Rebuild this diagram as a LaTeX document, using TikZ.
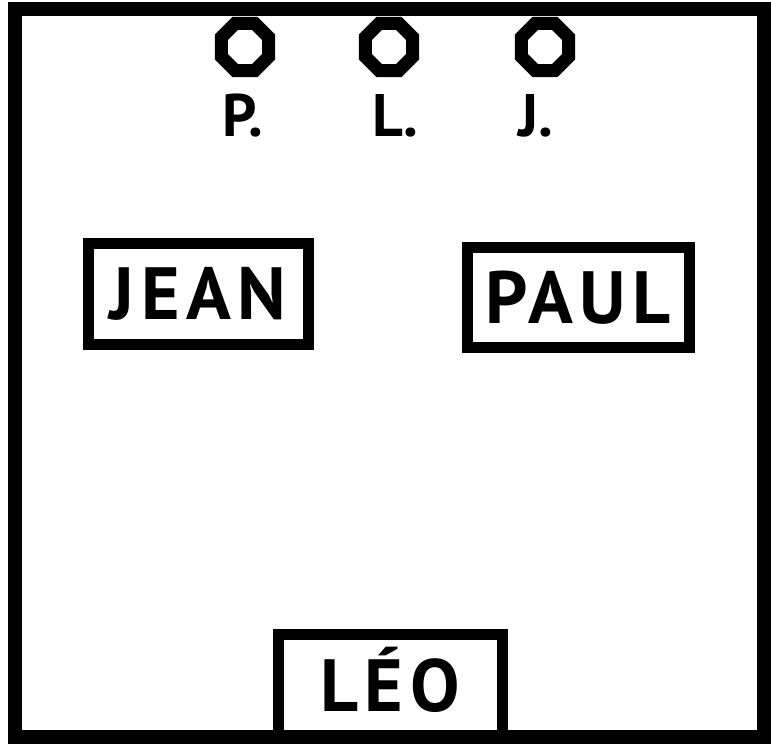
\documentclass[tikz,border=0pt]{standalone}
\usepackage{fontspec}
\setmainfont{PT Sans}
\newfontfamily\boxfont{PT Sans}[LetterSpace=9]
\usetikzlibrary{shapes.geometric}
\begin{document}
\begin{tikzpicture}[x=1pt,y=-1pt,
  namebox/.style={draw, line width=11pt, minimum width=220pt, minimum height=101pt,
    inner sep=0pt, font=\boxfont\bfseries\fontsize{74}{74}\selectfont, text height=52pt, text depth=0pt},
  ring/.style={draw, regular polygon, regular polygon sides=8, minimum size=51pt,
    line width=13pt, inner sep=0pt},
  initial/.style={font=\bfseries\fontsize{60}{60}\selectfont, inner sep=0pt,
    text height=42pt, text depth=0pt},
  frame/.style={line width=14pt, line join=miter}]
\useasboundingbox (0,0) rectangle (771,744);
\fill[white] (0,0) rectangle (771,744);
% hooks at the top
\node[ring] (ringP) at (245,47) {};
\node[ring] (ringL) at (389,47) {};
\node[ring] (ringJ) at (545,47) {};
\node[initial] (labP) at (243,115) {P.};
\node[initial] (labL) at (395,115) {L.};
\node[initial] (labJ) at (536,115) {J.};
% name boxes
\node[namebox] (jean) at (198,293.5) {JEAN};
\node[namebox, minimum width=222pt, minimum height=100pt] (paul) at (578,297) {PAUL};
\node[namebox, minimum width=224pt, minimum height=103pt] (leo) at (390,685.5) {LÉO};
% outer frame
\draw[frame] (15,9) rectangle (764,737);
\end{tikzpicture}
\end{document}
